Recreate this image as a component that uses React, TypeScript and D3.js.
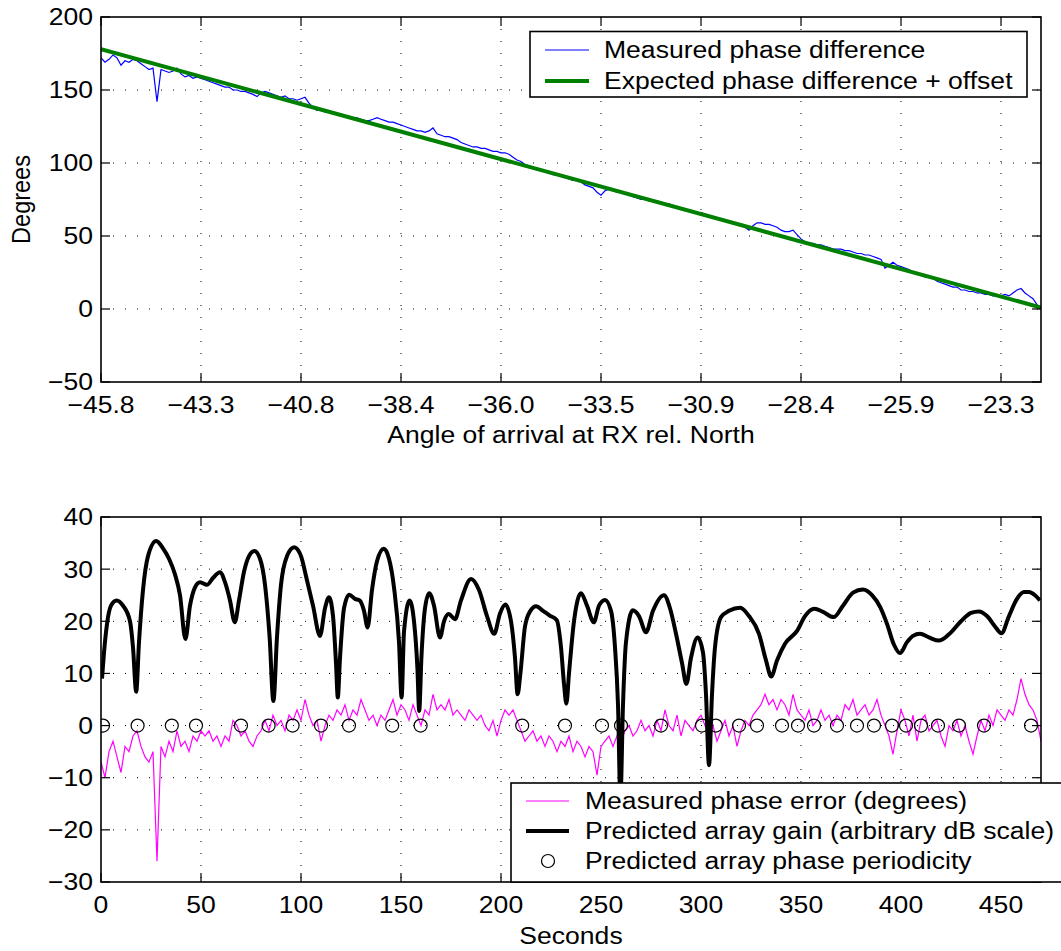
import React from "react";
import * as d3 from "d3";

// ---------- data ----------
const STEP = 2; // seconds between samples of the measured series
const measuredPhase = [
  172, 169, 171, 174, 172, 167, 170, 169, 171, 170,
  168, 166, 164, 165, 142, 164, 163, 162, 163, 165,
  161, 159, 160, 158, 159, 158, 157, 156, 155, 154,
  153, 152, 152, 150, 150, 149, 149, 148, 147, 145.5,
  148, 149, 148, 147, 146, 145, 146, 144, 144, 143,
  144, 145, 141, 138, 136, 136, 135, 135, 134, 133,
  133, 132, 132, 131, 131, 130, 129, 129, 130, 131,
  130, 129, 128, 128, 127, 126, 125, 124, 123, 122,
  122, 121, 122, 124, 120, 119, 118, 118, 117, 116,
  114, 113, 112, 111, 111, 110, 110, 109, 108, 108,
  107, 107, 106, 104, 102, 101, 99, 98, 97, 96,
  95, 94, 93, 92, 92, 91, 90, 89, 88, 88,
  87, 85, 84, 83, 80, 78, 81, 82, 81, 80,
  80, 79, 78, 77, 76, 75, 75, 74, 74, 74,
  73, 72, 72, 71, 70, 69, 68, 68, 67, 66,
  66, 65, 64, 63, 62, 62, 61, 60, 59, 58,
  57, 56, 54, 57, 59, 59, 58, 58, 57, 56,
  54, 53, 53, 54, 51, 48, 46, 45, 45, 44,
  44, 43, 42, 41, 41, 41, 40, 40, 39, 38,
  38, 37, 37, 36, 35, 34, 28, 30, 32, 30,
  29, 28, 27, 25, 24, 23, 22, 22, 21, 19,
  18, 17, 16, 15, 15, 13, 13, 12, 12, 11,
  11, 10, 10, 9, 9, 9, 10, 9, 11, 13,
  14, 11, 9, 7, 3, 0,
];
const expectedTime = [0, 470];
const expectedPhase = [178, 1];

const phaseError = [
  -7, -10, -5, -3, -6, -9, -4, -5, -2, -1,
  -4, -6, -7, -5, -26, -4, -6, -3, -5, -1,
  -4, -3, -5, -2, -3, -1, -2, -1, -3, -2,
  -4, -2, -3, 1, 0, -2, -1, -3, -4, -2,
  -1, 1, -1, 2, 0, 1, -1, 2, 1, 3,
  1, 5, 2, 0, 1, -3, 0, 2, 1, 3,
  2, 4, 1, 3, 2, 5, 3, 1, 2, 0,
  2, 1, 3, 5, 2, 4, 3, 1, 4, 2,
  0, 3, 2, 6, 3, 4, 3, 5, 2, 3,
  2, 1, 3, 2, 1, 2, 0, -1, 1, -2,
  1, 3, 2, 3, 1, -1, -3, -2, -1, -3,
  -2, -4, -2, -3, -5, -3, -4, -2, -5, -3,
  -4, -6, -4, -5, -9.5, -4, -3, -2, -4, -2,
  -3, -1, 0, -2, -1, 1, -1, 0, -2, 1,
  -1, 3, 0, -1, 2, -2, 1, 0, -1, 1,
  2, 0, -2, 0, -3, -1, 1, -2, 0, -4,
  -1, 1, 0, 2, 3, 4, 6, 4, 5, 3,
  5, 4, 2, 6, 3, 2, 1, 3, 0, 1,
  3, 1, 2, 0, 2, 1, 4, 3, 5, 2,
  3, 4, 2, 3, 5, 2, 0, -2, -5.5, -1,
  3, 1, -2, 2, -3, 1, 2, -1, 0, 1,
  -2, -4, 0, -1, 1, -2, 0, -3, -5.5, -2,
  1, -1, 2, 0, 3, 2, 1, 3, 2, 5,
  9, 6, 4, 3, 1, -3,
];

const gainTime = [
  0.5, 1.5, 3, 5, 7.8, 11, 14.5, 16, 17.6, 19, 21, 23.5, 27.6, 31, 34, 37, 39.5, 42.2, 44.5, 47,
  49.5, 53, 56, 59.5, 62, 64.5, 66.9, 69, 71.5, 74, 76.7, 79.5, 82, 84.3, 86.2, 88, 90, 93, 96.6, 100,
  102.6, 106, 109.5, 112, 114, 116, 117.5, 118.4, 119.5, 121.5, 124.1, 127, 129.3, 131.5, 133.3, 135.5, 138, 141.4, 144, 146.5,
  149, 150.3, 151.5, 154.3, 156.5, 158.2, 159.1, 160.2, 162, 164.1, 166.5, 169.5, 171.5, 173.8, 177, 180, 185, 189, 193, 196.6,
  199.5, 202.2, 205, 207, 208.3, 209.7, 212, 214.7, 217.5, 221, 224.4, 227.9, 230, 231.5, 232.7, 234, 236.5, 240, 243, 246.4,
  249, 252, 255, 257, 258.5, 259.7, 261, 262.5, 265.9, 269, 272.5, 276, 281.5, 284.5, 287.5, 290.5, 292.7, 295, 298.3, 301,
  302.5, 304, 305.5, 307, 310, 314, 319.6, 324, 329, 332.5, 335.1, 338, 342, 348.1, 352, 356.7, 361, 366.3, 371, 376,
  381, 385.5, 389.6, 393, 396.5, 399.5, 403, 406, 409.5, 414, 419, 424, 430, 435, 438.9, 443, 447, 450.2, 454, 458,
  461.5, 464, 467, 469.5,
];
const gainDb = [
  9, 14, 19.5, 23, 24, 23, 20, 15, 6.5, 16, 26, 32.5, 35.4, 34, 32, 29, 25, 16.6, 23, 26.5,
  27.5, 27, 28.3, 29.4, 27.5, 24, 19.8, 24, 29.5, 32.5, 33.5, 32, 27, 17, 4.7, 17, 27, 32.5, 34.2, 32.5,
  28.5, 23, 17.2, 22.5, 24.6, 21, 12, 5.4, 13, 22.5, 25.1, 24.3, 24, 22, 18.8, 26, 31.5, 33.9, 32, 26.5,
  16, 5.4, 18, 24, 20, 11, 2.8, 13, 22.5, 25.4, 23, 16.9, 20, 21.4, 20.4, 24, 28.1, 26, 21, 17.6,
  21.5, 23.2, 20, 13, 6, 10, 19, 22, 22.9, 22, 21.1, 20.2, 15, 8, 4.2, 10, 20, 25.4, 23, 19.8,
  23, 24.1, 22, 15, 4, -14, 4, 16, 22.1, 21, 17.9, 22, 25, 22.5, 17.6, 12, 8, 13, 16.9, 14,
  6, -7.6, 6, 15, 20.8, 22, 22.6, 21, 17.6, 12.5, 9.4, 12.5, 15.7, 18.2, 21, 22.4, 21.8, 20.8, 23, 25.5,
  26.1, 25, 22.7, 19.5, 15.5, 13.9, 16, 17.2, 17.6, 16.9, 16.3, 17.5, 20, 21.6, 21.9, 21, 19, 17.7, 21, 24.3,
  25.6, 25.6, 25, 24,
];

const periodicityTime = [
  1, 18.3, 35.4, 47.5, 70, 83.8, 95.8, 110, 124, 145.6, 159.8, 210.6, 232, 250.5, 260, 280,
  300.5, 307.4, 319, 328, 340.5, 348.5, 356.5, 368, 378, 386.5, 395.5, 402.5, 410, 418.5, 429, 441.5, 465,
];

const xTickSeconds = [0, 50, 100, 150, 200, 250, 300, 350, 400, 450];
const angleTickLabels = ["\u221245.8", "\u221243.3", "\u221240.8", "\u221238.4", "\u221236.0", "\u221233.5", "\u221230.9", "\u221228.4", "\u221225.9", "\u221223.3"];
const degreeTicks = [-50, 0, 50, 100, 150, 200];
const errorTicks = [-30, -20, -10, 0, 10, 20, 30, 40];

// ---------- layout ----------
const W = 1061;
const H = 951;
const L = 101;
const R = 1041;
const T1 = 17, B1 = 382;
const T2 = 517, B2 = 882;
const FONT = "'Liberation Sans', Arial, Helvetica, sans-serif";
const FS = 23.5;
const SX = 1.13;
const TICK = 9;

const fmt = (v: number) => (v < 0 ? "\u2212" + Math.abs(v) : String(v));

function Txt({ x, y, anchor = "start", rotate = 0, dy, children }: any) {
  return (
    <g transform={`translate(${x},${y}) scale(${SX},1)${rotate ? ` rotate(${rotate})` : ""}`}>
      <text x={0} y={0} dy={dy} textAnchor={anchor} fontFamily={FONT} fontSize={FS} fill="#000">
        {children}
      </text>
    </g>
  );
}

function Grid({ x, y, top, bottom, yTicks }: any) {
  return (
    <g>
      {xTickSeconds.map((t) => {
        const px = x(t);
        if (Math.abs(px - L) < 1 || Math.abs(px - R) < 1) return null;
        return <line key={"gx" + t} x1={px} x2={px} y1={top} y2={bottom} stroke="#000" strokeWidth={1} strokeDasharray="1,11" />;
      })}
      {yTicks.map((v: number) => {
        const py = y(v);
        if (Math.abs(py - top) < 1 || Math.abs(py - bottom) < 1) return null;
        return <line key={"gy" + v} x1={L} x2={R} y1={py} y2={py} stroke="#000" strokeWidth={1} strokeDasharray="1,11" />;
      })}
    </g>
  );
}

function Frame({ x, y, top, bottom, yTicks, xLabels }: any) {
  return (
    <g>
      <rect x={L} y={top} width={R - L} height={bottom - top} fill="none" stroke="#000" strokeWidth={1.6} />
      {xTickSeconds.map((t) => {
        const px = x(t);
        return (
          <g key={"tx" + t}>
            <line x1={px} x2={px} y1={bottom} y2={bottom - TICK} stroke="#000" strokeWidth={1.2} />
            <line x1={px} x2={px} y1={top} y2={top + TICK} stroke="#000" strokeWidth={1.2} />
          </g>
        );
      })}
      {yTicks.map((v: number) => {
        const py = y(v);
        return (
          <g key={"ty" + v}>
            <line x1={L} x2={L + TICK} y1={py} y2={py} stroke="#000" strokeWidth={1.2} />
            <line x1={R} x2={R - TICK} y1={py} y2={py} stroke="#000" strokeWidth={1.2} />
            <Txt x={L - 8} y={py} anchor="end" dy="0.36em">{fmt(v)}</Txt>
          </g>
        );
      })}
      {xTickSeconds.map((t, i) => (
        <Txt key={"lx" + t} x={x(t)} y={bottom + 31} anchor="middle">{xLabels[i]}</Txt>
      ))}
    </g>
  );
}

export default function App() {
  const x = d3.scaleLinear().domain([0, 470]).range([L, R]);
  const yTop = d3.scaleLinear().domain([-50, 200]).range([B1, T1]);
  const yBot = d3.scaleLinear().domain([-30, 40]).range([B2, T2]);

  const measured = measuredPhase.map((v, i) => [i * STEP, v] as [number, number]);
  const expected = expectedTime.map((t, i) => [t, expectedPhase[i]] as [number, number]);
  const err = phaseError.map((v, i) => [i * STEP, v] as [number, number]);
  const gain = gainTime.map((t, i) => [t, gainDb[i]] as [number, number]);

  const lineTop = d3.line<[number, number]>().x((d) => x(d[0])).y((d) => yTop(d[1]));
  const lineBot = d3.line<[number, number]>().x((d) => x(d[0])).y((d) => yBot(d[1]));
  const lineGain = d3
    .line<[number, number]>()
    .x((d) => x(d[0]))
    .y((d) => yBot(d[1]))
    .curve(d3.curveMonotoneX);

  return (
    <svg width={W} height={H} style={{ position: "absolute", left: 0, top: 0, background: "#fff" }}>
      <defs>
        <clipPath id="clipTop">
          <rect x={L} y={T1} width={R - L} height={B1 - T1} />
        </clipPath>
        <clipPath id="clipBot">
          <rect x={L} y={T2} width={R - L} height={B2 - T2} />
        </clipPath>
      </defs>
      <rect x={0} y={0} width={W} height={H} fill="#fff" />

      {/* ---- top plot ---- */}
      <Grid x={x} y={yTop} top={T1} bottom={B1} yTicks={degreeTicks} />
      <g clipPath="url(#clipTop)">
        <path d={lineTop(measured) || ""} fill="none" stroke="#0000ff" strokeWidth={1.2} />
        <path d={lineTop(expected) || ""} fill="none" stroke="#008000" strokeWidth={4} />
      </g>
      <Frame x={x} y={yTop} top={T1} bottom={B1} yTicks={degreeTicks} xLabels={angleTickLabels} />
      <Txt x={(L + R) / 2} y={B1 + 61} anchor="middle">Angle of arrival at RX rel. North</Txt>
      <Txt x={30} y={(T1 + B1) / 2} anchor="middle" rotate={-90}>Degrees</Txt>

      {/* top legend */}
      <g>
        <rect x={530} y={31.5} width={497} height={65.5} fill="#fff" stroke="#000" strokeWidth={1.6} />
        <line x1={545} x2={589} y1={50} y2={50} stroke="#0000ff" strokeWidth={1.2} />
        <Txt x={604} y={50} dy="0.36em">Measured phase difference</Txt>
        <line x1={545} x2={589} y1={81} y2={81} stroke="#008000" strokeWidth={4} />
        <Txt x={604} y={81} dy="0.36em">Expected phase difference + offset</Txt>
      </g>

      {/* ---- bottom plot ---- */}
      <Grid x={x} y={yBot} top={T2} bottom={B2} yTicks={errorTicks} />
      <g clipPath="url(#clipBot)">
        <path d={lineBot(err) || ""} fill="none" stroke="#ff00ff" strokeWidth={1.2} />
        <path d={lineGain(gain) || ""} fill="none" stroke="#000" strokeWidth={4} strokeLinejoin="round" />
        {periodicityTime.map((t, i) => (
          <circle key={"c" + i} cx={x(t)} cy={yBot(0)} r={6.5} fill="none" stroke="#000" strokeWidth={1.2} />
        ))}
      </g>
      <Frame x={x} y={yBot} top={T2} bottom={B2} yTicks={errorTicks} xLabels={xTickSeconds.map(String)} />
      <Txt x={(L + R) / 2} y={B2 + 62} anchor="middle">Seconds</Txt>

      {/* bottom legend */}
      <g>
        <rect x={511} y={783} width={560} height={99} fill="#fff" stroke="#000" strokeWidth={1.6} />
        <line x1={526} x2={569} y1={801} y2={801} stroke="#ff00ff" strokeWidth={1.2} />
        <Txt x={585} y={801} dy="0.36em">Measured phase error (degrees)</Txt>
        <line x1={526} x2={569} y1={831} y2={831} stroke="#000" strokeWidth={4} />
        <Txt x={585} y={831} dy="0.36em">Predicted array gain (arbitrary dB scale)</Txt>
        <circle cx={548} cy={861} r={6.5} fill="none" stroke="#000" strokeWidth={1.2} />
        <Txt x={585} y={861} dy="0.36em">Predicted array phase periodicity</Txt>
      </g>
    </svg>
  );
}
